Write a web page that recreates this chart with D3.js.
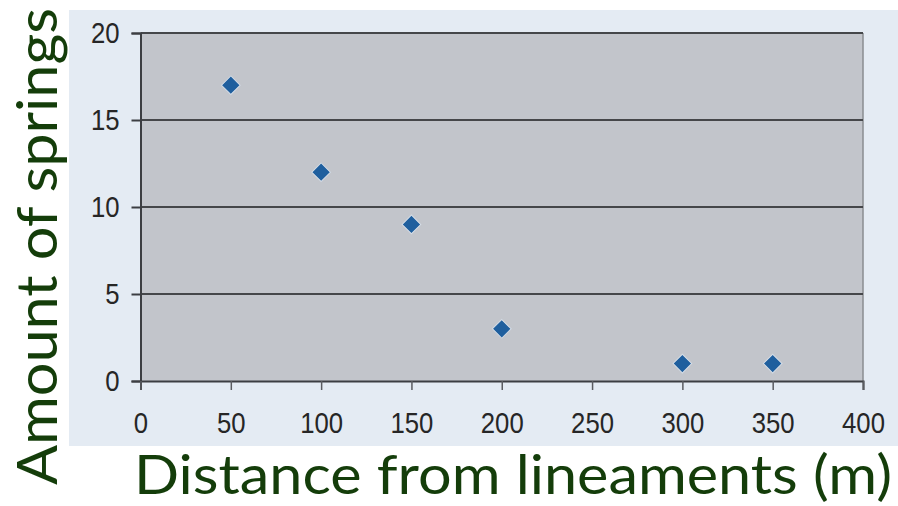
<!DOCTYPE html>
<html>
<head>
<meta charset="utf-8">
<script src="https://cdn.jsdelivr.net/npm/d3@7/dist/d3.min.js"></script>
<style>
  html, body { margin: 0; padding: 0; background: #ffffff; }
  svg { display: block; }
</style>
</head>
<body>
<svg id="chart" width="898" height="506"></svg>
<script>
// Spring counts by distance from lineaments
const distances = [50, 100, 150, 200, 300, 350];
const springs   = [17, 12, 9, 3, 1, 1];
const xTicks = [0, 50, 100, 150, 200, 250, 300, 350, 400];
const yTicks = [0, 5, 10, 15, 20];
const xTitle = "Distance from lineaments (m)";
const yTitle = "Amount of springs";

const svg = d3.select("#chart");
const plot = { left: 140.5, right: 863, top: 33, bottom: 381 };

const x = d3.scaleLinear().domain([0, 400]).range([plot.left, plot.right]);
const y = d3.scaleLinear().domain([0, 20]).range([plot.bottom, plot.top]);

// pale panel behind the chart
svg.append("rect")
  .attr("x", 69).attr("y", 10).attr("width", 829).attr("height", 436)
  .attr("fill", "#e4ebf3");

// grey plotting area
svg.append("rect")
  .attr("x", plot.left).attr("y", plot.top)
  .attr("width", plot.right - plot.left).attr("height", plot.bottom - plot.top)
  .attr("fill", "#c2c5cb");

// right border of plot area
svg.append("line")
  .attr("x1", plot.right).attr("x2", plot.right)
  .attr("y1", plot.top).attr("y2", plot.bottom)
  .attr("stroke", "#8a8c90").attr("stroke-width", 1.5);

// horizontal gridlines
svg.append("g")
  .selectAll("line")
  .data(yTicks.filter(d => d > 0))
  .join("line")
  .attr("x1", plot.left).attr("x2", plot.right)
  .attr("y1", d => y(d)).attr("y2", d => y(d))
  .attr("stroke", "#45474a").attr("stroke-width", 2);

const tickFont = sel => sel
  .attr("font-family", "Liberation Sans, Arial, sans-serif")
  .attr("font-size", 30).attr("fill", "#262626")
  .attr("textLength", d => String(d).length * 14.3)
  .attr("lengthAdjust", "spacingAndGlyphs");

// y axis
const yAxis = svg.append("g")
  .attr("transform", `translate(${plot.left},0)`)
  .call(d3.axisLeft(y).tickValues(yTicks).tickSize(9).tickPadding(12).tickFormat(d3.format("d")));
yAxis.select(".domain").attr("stroke", "#3c3e42").attr("stroke-width", 2);
yAxis.selectAll(".tick line").attr("stroke", "#3c3e42").attr("stroke-width", 2);
yAxis.selectAll(".tick text").call(tickFont);

// x axis
const xAxis = svg.append("g")
  .attr("transform", `translate(0,${plot.bottom})`)
  .call(d3.axisBottom(x).tickValues(xTicks).tickSize(9).tickPadding(22).tickFormat(d3.format("d")));
xAxis.select(".domain").attr("stroke", "#3c3e42").attr("stroke-width", 2);
xAxis.selectAll(".tick line").attr("stroke", "#5a5c60").attr("stroke-width", 1.5);
xAxis.selectAll(".tick text").call(tickFont);

// data points as diamonds
const pts = distances.map((d, i) => ({ d, n: springs[i] }));
svg.append("g")
  .selectAll("path")
  .data(pts)
  .join("path")
  .attr("d", d3.symbol(d3.symbolSquare, 175))
  .attr("transform", p => `translate(${x(p.d)},${y(p.n)}) rotate(45)`)
  .attr("fill", "#1f5f9e")
  .attr("stroke", "#d6dde6").attr("stroke-width", 1);

// axis titles
svg.append("text")
  .attr("x", 134).attr("y", 494)
  .attr("font-family", "Lato, sans-serif")
  .attr("font-size", 54)
  .attr("fill", "#143d0a")
  .attr("textLength", 758).attr("lengthAdjust", "spacingAndGlyphs")
  .text(xTitle);

svg.append("text")
  .attr("transform", "translate(57,485) rotate(-90)")
  .attr("font-family", "Lato, sans-serif")
  .attr("font-size", 56)
  .attr("fill", "#143d0a")
  .attr("textLength", 477).attr("lengthAdjust", "spacingAndGlyphs")
  .text(yTitle);
</script>
</body>
</html>
